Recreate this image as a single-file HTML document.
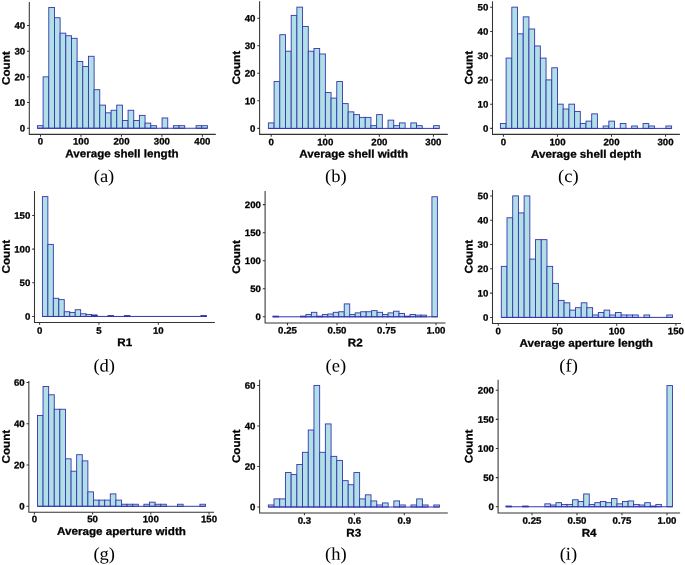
<!DOCTYPE html>
<html><head><meta charset="utf-8"><title>Histograms</title>
<style>
html,body{margin:0;padding:0;background:#fff;}
svg{display:block;}
text{text-rendering:geometricPrecision;}
.t{font-family:"Liberation Sans",Arial,sans-serif;font-weight:bold;fill:#000;stroke:#000;stroke-width:0.28;}
.l{font-family:"Liberation Serif","Times New Roman",serif;fill:#000;}
</style></head><body>
<svg width="685" height="565" viewBox="0 0 685 565">
<rect width="685" height="565" fill="#fff"/>
<g id="panel-a">
<g fill="#b0e0e6" stroke="#3535b0" stroke-width="0.9" stroke-linejoin="miter">
<rect x="37.45" y="125.68" width="5.665" height="2.57"/><rect x="43.12" y="76.85" width="5.665" height="51.40"/><rect x="48.78" y="7.46" width="5.665" height="120.79"/><rect x="54.45" y="17.74" width="5.665" height="110.51"/><rect x="60.11" y="33.16" width="5.665" height="95.09"/><rect x="65.78" y="35.73" width="5.665" height="92.52"/><rect x="71.44" y="38.30" width="5.665" height="89.95"/><rect x="77.11" y="61.43" width="5.665" height="66.82"/><rect x="82.77" y="66.57" width="5.665" height="61.68"/><rect x="88.44" y="56.29" width="5.665" height="71.96"/><rect x="94.10" y="89.70" width="5.665" height="38.55"/><rect x="99.77" y="105.12" width="5.665" height="23.13"/><rect x="105.43" y="112.83" width="5.665" height="15.42"/><rect x="111.09" y="110.26" width="5.665" height="17.99"/><rect x="116.76" y="105.12" width="5.665" height="23.13"/><rect x="122.42" y="120.54" width="5.665" height="7.71"/><rect x="128.09" y="110.26" width="5.665" height="17.99"/><rect x="133.75" y="120.54" width="5.665" height="7.71"/><rect x="139.42" y="115.40" width="5.665" height="12.85"/><rect x="145.09" y="123.11" width="5.665" height="5.14"/><rect x="150.75" y="125.68" width="5.665" height="2.57"/><rect x="156.42" y="128.25" width="5.665" height="0.00"/><rect x="162.08" y="117.97" width="5.665" height="10.28"/><rect x="167.75" y="128.25" width="5.665" height="0.00"/><rect x="173.41" y="125.68" width="5.665" height="2.57"/><rect x="179.07" y="125.68" width="5.665" height="2.57"/><rect x="184.74" y="128.25" width="5.665" height="0.00"/><rect x="190.41" y="128.25" width="5.665" height="0.00"/><rect x="196.07" y="125.68" width="5.665" height="2.57"/><rect x="201.74" y="125.68" width="5.665" height="2.57"/><path d="M37.45 128.25H207.40" fill="none" stroke-width="1.0"/>
</g>
<g stroke="#333333" stroke-width="1.05" fill="none">
<path d="M29.30 2.00V134.35H215.80"/>
<path d="M27.00 128.25H29.30M27.00 102.55H29.30M27.00 76.85H29.30M27.00 51.15H29.30M27.00 25.45H29.30M40.50 134.35v2.3M80.98 134.35v2.3M121.45 134.35v2.3M161.90 134.35v2.3M202.40 134.35v2.3"/>
</g>
<g class="t" font-size="9.4">
<text transform="translate(25.15 131.55) rotate(0.03) scale(1.03 1)" text-anchor="end">0</text><text transform="translate(25.15 105.85) rotate(0.03) scale(1.03 1)" text-anchor="end">10</text><text transform="translate(25.15 80.15) rotate(0.03) scale(1.03 1)" text-anchor="end">20</text><text transform="translate(25.15 54.45) rotate(0.03) scale(1.03 1)" text-anchor="end">30</text><text transform="translate(25.15 28.75) rotate(0.03) scale(1.03 1)" text-anchor="end">40</text><text transform="translate(40.50 144.60) rotate(0.03) scale(1.03 1)" text-anchor="middle">0</text><text transform="translate(80.98 144.60) rotate(0.03) scale(1.03 1)" text-anchor="middle">100</text><text transform="translate(121.45 144.60) rotate(0.03) scale(1.03 1)" text-anchor="middle">200</text><text transform="translate(161.90 144.60) rotate(0.03) scale(1.03 1)" text-anchor="middle">300</text><text transform="translate(202.40 144.60) rotate(0.03) scale(1.03 1)" text-anchor="middle">400</text>
</g>
<text class="t" font-size="11.0" transform="translate(121.95 157.30) rotate(0.03) scale(1.058 1)" text-anchor="middle">Average shell length</text>
<text class="t" font-size="11.0" transform="translate(9.80 68.17) rotate(-89.97) scale(1.058 1)" text-anchor="middle">Count</text>
<text class="l" font-size="18.0" transform="translate(104.00 181.90) rotate(0.03) scale(1.03 1)" text-anchor="middle">(a)</text>
</g>
<g id="panel-b">
<g fill="#b0e0e6" stroke="#3535b0" stroke-width="0.9" stroke-linejoin="miter">
<rect x="268.40" y="122.89" width="5.697" height="5.51"/><rect x="274.10" y="81.55" width="5.697" height="46.85"/><rect x="279.79" y="34.70" width="5.697" height="93.70"/><rect x="285.49" y="51.23" width="5.697" height="77.17"/><rect x="291.19" y="15.40" width="5.697" height="113.00"/><rect x="296.88" y="7.14" width="5.697" height="121.26"/><rect x="302.58" y="26.43" width="5.697" height="101.97"/><rect x="308.28" y="51.23" width="5.697" height="77.17"/><rect x="313.98" y="48.48" width="5.697" height="79.92"/><rect x="319.67" y="53.99" width="5.697" height="74.41"/><rect x="325.37" y="92.57" width="5.697" height="35.83"/><rect x="331.07" y="98.08" width="5.697" height="30.32"/><rect x="336.76" y="81.55" width="5.697" height="46.85"/><rect x="342.46" y="103.60" width="5.697" height="24.80"/><rect x="348.16" y="111.86" width="5.697" height="16.54"/><rect x="353.85" y="114.62" width="5.697" height="13.78"/><rect x="359.55" y="117.38" width="5.697" height="11.02"/><rect x="365.25" y="117.38" width="5.697" height="11.02"/><rect x="370.95" y="125.64" width="5.697" height="2.76"/><rect x="376.64" y="114.62" width="5.697" height="13.78"/><rect x="382.34" y="128.40" width="5.697" height="0.00"/><rect x="388.04" y="120.13" width="5.697" height="8.27"/><rect x="393.73" y="125.64" width="5.697" height="2.76"/><rect x="399.43" y="122.89" width="5.697" height="5.51"/><rect x="405.13" y="128.40" width="5.697" height="0.00"/><rect x="410.82" y="122.89" width="5.697" height="5.51"/><rect x="416.52" y="125.64" width="5.697" height="2.76"/><rect x="422.22" y="128.40" width="5.697" height="0.00"/><rect x="427.92" y="128.40" width="5.697" height="0.00"/><rect x="433.61" y="125.64" width="5.697" height="2.76"/><path d="M268.40 128.40H439.31" fill="none" stroke-width="1.0"/>
</g>
<g stroke="#333333" stroke-width="1.05" fill="none">
<path d="M259.60 1.20V134.35H447.80"/>
<path d="M257.30 128.40H259.60M257.30 100.84H259.60M257.30 73.28H259.60M257.30 45.72H259.60M257.30 18.16H259.60M271.20 134.35v2.3M325.30 134.35v2.3M379.35 134.35v2.3M433.43 134.35v2.3"/>
</g>
<g class="t" font-size="9.4">
<text transform="translate(255.45 131.70) rotate(0.03) scale(1.03 1)" text-anchor="end">0</text><text transform="translate(255.45 104.14) rotate(0.03) scale(1.03 1)" text-anchor="end">10</text><text transform="translate(255.45 76.58) rotate(0.03) scale(1.03 1)" text-anchor="end">20</text><text transform="translate(255.45 49.02) rotate(0.03) scale(1.03 1)" text-anchor="end">30</text><text transform="translate(255.45 21.46) rotate(0.03) scale(1.03 1)" text-anchor="end">40</text><text transform="translate(271.20 145.30) rotate(0.03) scale(1.03 1)" text-anchor="middle">0</text><text transform="translate(325.30 145.30) rotate(0.03) scale(1.03 1)" text-anchor="middle">100</text><text transform="translate(379.35 145.30) rotate(0.03) scale(1.03 1)" text-anchor="middle">200</text><text transform="translate(433.43 145.30) rotate(0.03) scale(1.03 1)" text-anchor="middle">300</text>
</g>
<text class="t" font-size="11.0" transform="translate(353.70 157.50) rotate(0.03) scale(1.058 1)" text-anchor="middle">Average shell width</text>
<text class="t" font-size="11.0" transform="translate(240.00 67.77) rotate(-89.97) scale(1.058 1)" text-anchor="middle">Count</text>
<text class="l" font-size="18.0" transform="translate(335.80 181.90) rotate(0.03) scale(1.03 1)" text-anchor="middle">(b)</text>
</g>
<g id="panel-c">
<g fill="#b0e0e6" stroke="#3535b0" stroke-width="0.9" stroke-linejoin="miter">
<rect x="500.40" y="123.55" width="5.707" height="4.85"/><rect x="506.11" y="58.08" width="5.707" height="70.32"/><rect x="511.81" y="7.15" width="5.707" height="121.25"/><rect x="517.52" y="33.83" width="5.707" height="94.57"/><rect x="523.23" y="16.85" width="5.707" height="111.55"/><rect x="528.93" y="28.98" width="5.707" height="99.42"/><rect x="534.64" y="45.95" width="5.707" height="82.45"/><rect x="540.35" y="58.08" width="5.707" height="70.32"/><rect x="546.06" y="79.90" width="5.707" height="48.50"/><rect x="551.76" y="67.78" width="5.707" height="60.62"/><rect x="557.47" y="104.15" width="5.707" height="24.25"/><rect x="563.18" y="109.00" width="5.707" height="19.40"/><rect x="568.88" y="104.15" width="5.707" height="24.25"/><rect x="574.59" y="111.43" width="5.707" height="16.97"/><rect x="580.30" y="123.55" width="5.707" height="4.85"/><rect x="586.00" y="121.12" width="5.707" height="7.27"/><rect x="591.71" y="113.85" width="5.707" height="14.55"/><rect x="597.42" y="128.40" width="5.707" height="0.00"/><rect x="603.13" y="125.98" width="5.707" height="2.42"/><rect x="608.83" y="121.12" width="5.707" height="7.27"/><rect x="614.54" y="128.40" width="5.707" height="0.00"/><rect x="620.25" y="123.55" width="5.707" height="4.85"/><rect x="625.95" y="128.40" width="5.707" height="0.00"/><rect x="631.66" y="125.98" width="5.707" height="2.42"/><rect x="637.37" y="128.40" width="5.707" height="0.00"/><rect x="643.07" y="123.55" width="5.707" height="4.85"/><rect x="648.78" y="125.98" width="5.707" height="2.42"/><rect x="654.49" y="128.40" width="5.707" height="0.00"/><rect x="660.20" y="128.40" width="5.707" height="0.00"/><rect x="665.90" y="125.98" width="5.707" height="2.42"/><path d="M500.40 128.40H671.61" fill="none" stroke-width="1.0"/>
</g>
<g stroke="#333333" stroke-width="1.05" fill="none">
<path d="M492.50 1.20V134.35H679.90"/>
<path d="M490.20 128.40H492.50M490.20 104.15H492.50M490.20 79.90H492.50M490.20 55.65H492.50M490.20 31.40H492.50M490.20 7.15H492.50M503.40 134.35v2.3M557.45 134.35v2.3M611.50 134.35v2.3M665.55 134.35v2.3"/>
</g>
<g class="t" font-size="9.4">
<text transform="translate(488.35 131.70) rotate(0.03) scale(1.03 1)" text-anchor="end">0</text><text transform="translate(488.35 107.45) rotate(0.03) scale(1.03 1)" text-anchor="end">10</text><text transform="translate(488.35 83.20) rotate(0.03) scale(1.03 1)" text-anchor="end">20</text><text transform="translate(488.35 58.95) rotate(0.03) scale(1.03 1)" text-anchor="end">30</text><text transform="translate(488.35 34.70) rotate(0.03) scale(1.03 1)" text-anchor="end">40</text><text transform="translate(488.35 10.45) rotate(0.03) scale(1.03 1)" text-anchor="end">50</text><text transform="translate(503.40 145.30) rotate(0.03) scale(1.03 1)" text-anchor="middle">0</text><text transform="translate(557.45 145.30) rotate(0.03) scale(1.03 1)" text-anchor="middle">100</text><text transform="translate(611.50 145.30) rotate(0.03) scale(1.03 1)" text-anchor="middle">200</text><text transform="translate(665.55 145.30) rotate(0.03) scale(1.03 1)" text-anchor="middle">300</text>
</g>
<text class="t" font-size="11.0" transform="translate(586.20 157.75) rotate(0.03) scale(1.058 1)" text-anchor="middle">Average shell depth</text>
<text class="t" font-size="11.0" transform="translate(472.60 67.77) rotate(-89.97) scale(1.058 1)" text-anchor="middle">Count</text>
<text class="l" font-size="18.0" transform="translate(568.40 181.90) rotate(0.03) scale(1.03 1)" text-anchor="middle">(c)</text>
</g>
<g id="panel-d">
<g fill="#b0e0e6" stroke="#3535b0" stroke-width="0.9" stroke-linejoin="miter">
<rect x="42.40" y="196.60" width="5.467" height="119.85"/><rect x="47.87" y="244.41" width="5.467" height="72.04"/><rect x="53.33" y="298.27" width="5.467" height="18.18"/><rect x="58.80" y="299.62" width="5.467" height="16.83"/><rect x="64.27" y="311.74" width="5.467" height="4.71"/><rect x="69.73" y="312.41" width="5.467" height="4.04"/><rect x="75.20" y="309.72" width="5.467" height="6.73"/><rect x="80.67" y="313.76" width="5.467" height="2.69"/><rect x="86.14" y="314.43" width="5.467" height="2.02"/><rect x="91.60" y="315.10" width="5.467" height="1.35"/><rect x="97.07" y="316.45" width="5.467" height="0.00"/><rect x="102.54" y="316.45" width="5.467" height="0.00"/><rect x="108.00" y="315.78" width="5.467" height="0.67"/><rect x="113.47" y="316.45" width="5.467" height="0.00"/><rect x="118.94" y="316.45" width="5.467" height="0.00"/><rect x="124.41" y="315.78" width="5.467" height="0.67"/><rect x="129.87" y="316.45" width="5.467" height="0.00"/><rect x="135.34" y="316.45" width="5.467" height="0.00"/><rect x="140.81" y="316.45" width="5.467" height="0.00"/><rect x="146.27" y="316.45" width="5.467" height="0.00"/><rect x="151.74" y="316.45" width="5.467" height="0.00"/><rect x="157.21" y="316.45" width="5.467" height="0.00"/><rect x="162.67" y="316.45" width="5.467" height="0.00"/><rect x="168.14" y="316.45" width="5.467" height="0.00"/><rect x="173.61" y="316.45" width="5.467" height="0.00"/><rect x="179.07" y="316.45" width="5.467" height="0.00"/><rect x="184.54" y="316.45" width="5.467" height="0.00"/><rect x="190.01" y="316.45" width="5.467" height="0.00"/><rect x="195.48" y="316.45" width="5.467" height="0.00"/><rect x="200.94" y="315.78" width="5.467" height="0.67"/><rect x="91.60" y="315.10" width="5.467" height="1.35" fill="#2a2aa8" stroke="#2a2aa8" stroke-width="0.7"/><rect x="108.00" y="315.78" width="5.467" height="0.67" fill="#2a2aa8" stroke="#2a2aa8" stroke-width="0.7"/><rect x="124.41" y="315.78" width="5.467" height="0.67" fill="#2a2aa8" stroke="#2a2aa8" stroke-width="0.7"/><rect x="200.94" y="315.78" width="5.467" height="0.67" fill="#2a2aa8" stroke="#2a2aa8" stroke-width="0.7"/><path d="M42.40 316.45H206.41" fill="none" stroke-width="1.0"/>
</g>
<g stroke="#333333" stroke-width="1.05" fill="none">
<path d="M34.50 190.90V322.50H214.90"/>
<path d="M32.20 316.45H34.50M32.20 282.78H34.50M32.20 249.12H34.50M32.20 215.45H34.50M39.60 322.50v2.3M98.95 322.50v2.3M158.30 322.50v2.3"/>
</g>
<g class="t" font-size="9.4">
<text transform="translate(30.35 319.75) rotate(0.03) scale(1.03 1)" text-anchor="end">0</text><text transform="translate(30.35 286.08) rotate(0.03) scale(1.03 1)" text-anchor="end">50</text><text transform="translate(30.35 252.42) rotate(0.03) scale(1.03 1)" text-anchor="end">100</text><text transform="translate(30.35 218.75) rotate(0.03) scale(1.03 1)" text-anchor="end">150</text><text transform="translate(39.60 333.65) rotate(0.03) scale(1.03 1)" text-anchor="middle">0</text><text transform="translate(98.95 333.65) rotate(0.03) scale(1.03 1)" text-anchor="middle">5</text><text transform="translate(158.30 333.65) rotate(0.03) scale(1.03 1)" text-anchor="middle">10</text>
</g>
<text class="t" font-size="11.0" transform="translate(124.70 345.90) rotate(0.03) scale(1.058 1)" text-anchor="middle">R1</text>
<text class="t" font-size="11.0" transform="translate(9.80 256.70) rotate(-89.97) scale(1.058 1)" text-anchor="middle">Count</text>
<text class="l" font-size="18.0" transform="translate(104.20 371.50) rotate(0.03) scale(1.03 1)" text-anchor="middle">(d)</text>
</g>
<g id="panel-e">
<g fill="#b0e0e6" stroke="#3535b0" stroke-width="0.9" stroke-linejoin="miter">
<rect x="273.00" y="316.24" width="5.480" height="0.56"/><rect x="278.48" y="316.80" width="5.480" height="0.00"/><rect x="283.96" y="316.80" width="5.480" height="0.00"/><rect x="289.44" y="316.80" width="5.480" height="0.00"/><rect x="294.92" y="316.80" width="5.480" height="0.00"/><rect x="300.40" y="316.24" width="5.480" height="0.56"/><rect x="305.88" y="314.56" width="5.480" height="2.24"/><rect x="311.36" y="312.31" width="5.480" height="4.49"/><rect x="316.84" y="316.24" width="5.480" height="0.56"/><rect x="322.32" y="314.56" width="5.480" height="2.24"/><rect x="327.80" y="314.00" width="5.480" height="2.81"/><rect x="333.28" y="312.31" width="5.480" height="4.49"/><rect x="338.76" y="311.75" width="5.480" height="5.05"/><rect x="344.24" y="303.90" width="5.480" height="12.90"/><rect x="349.72" y="314.56" width="5.480" height="2.24"/><rect x="355.20" y="312.87" width="5.480" height="3.93"/><rect x="360.68" y="311.75" width="5.480" height="5.05"/><rect x="366.16" y="311.75" width="5.480" height="5.05"/><rect x="371.64" y="310.63" width="5.480" height="6.17"/><rect x="377.12" y="312.31" width="5.480" height="4.49"/><rect x="382.60" y="314.56" width="5.480" height="2.24"/><rect x="388.08" y="312.87" width="5.480" height="3.93"/><rect x="393.56" y="311.19" width="5.480" height="5.61"/><rect x="399.04" y="313.43" width="5.480" height="3.37"/><rect x="404.52" y="316.24" width="5.480" height="0.56"/><rect x="410.00" y="314.56" width="5.480" height="2.24"/><rect x="415.48" y="315.12" width="5.480" height="1.68"/><rect x="420.96" y="315.12" width="5.480" height="1.68"/><rect x="426.44" y="316.80" width="5.480" height="0.00"/><rect x="431.92" y="196.75" width="5.480" height="120.05"/><rect x="273.00" y="316.24" width="5.480" height="0.56" fill="#2a2aa8" stroke="#2a2aa8" stroke-width="0.7"/><rect x="300.40" y="316.24" width="5.480" height="0.56" fill="#2a2aa8" stroke="#2a2aa8" stroke-width="0.7"/><rect x="316.84" y="316.24" width="5.480" height="0.56" fill="#2a2aa8" stroke="#2a2aa8" stroke-width="0.7"/><rect x="404.52" y="316.24" width="5.480" height="0.56" fill="#2a2aa8" stroke="#2a2aa8" stroke-width="0.7"/><path d="M273.00 316.80H437.40" fill="none" stroke-width="1.0"/>
</g>
<g stroke="#333333" stroke-width="1.05" fill="none">
<path d="M265.10 190.95V323.00H445.50"/>
<path d="M262.80 316.80H265.10M262.80 288.75H265.10M262.80 260.70H265.10M262.80 232.65H265.10M262.80 204.60H265.10M287.50 323.00v2.3M337.00 323.00v2.3M386.50 323.00v2.3M436.00 323.00v2.3"/>
</g>
<g class="t" font-size="9.4">
<text transform="translate(260.95 320.10) rotate(0.03) scale(1.03 1)" text-anchor="end">0</text><text transform="translate(260.95 292.05) rotate(0.03) scale(1.03 1)" text-anchor="end">50</text><text transform="translate(260.95 264.00) rotate(0.03) scale(1.03 1)" text-anchor="end">100</text><text transform="translate(260.95 235.95) rotate(0.03) scale(1.03 1)" text-anchor="end">150</text><text transform="translate(260.95 207.90) rotate(0.03) scale(1.03 1)" text-anchor="end">200</text><text transform="translate(287.50 333.60) rotate(0.03) scale(1.03 1)" text-anchor="middle">0.25</text><text transform="translate(337.00 333.60) rotate(0.03) scale(1.03 1)" text-anchor="middle">0.50</text><text transform="translate(386.50 333.60) rotate(0.03) scale(1.03 1)" text-anchor="middle">0.75</text><text transform="translate(436.00 333.60) rotate(0.03) scale(1.03 1)" text-anchor="middle">1.00</text>
</g>
<text class="t" font-size="11.0" transform="translate(355.30 346.20) rotate(0.03) scale(1.058 1)" text-anchor="middle">R2</text>
<text class="t" font-size="11.0" transform="translate(240.00 256.98) rotate(-89.97) scale(1.058 1)" text-anchor="middle">Count</text>
<text class="l" font-size="18.0" transform="translate(335.80 371.50) rotate(0.03) scale(1.03 1)" text-anchor="middle">(e)</text>
</g>
<g id="panel-f">
<g fill="#b0e0e6" stroke="#3535b0" stroke-width="0.9" stroke-linejoin="miter">
<rect x="501.30" y="266.37" width="5.707" height="51.03"/><rect x="507.01" y="217.77" width="5.707" height="99.63"/><rect x="512.71" y="195.90" width="5.707" height="121.50"/><rect x="518.42" y="212.91" width="5.707" height="104.49"/><rect x="524.13" y="195.90" width="5.707" height="121.50"/><rect x="529.84" y="259.08" width="5.707" height="58.32"/><rect x="535.54" y="239.64" width="5.707" height="77.76"/><rect x="541.25" y="239.64" width="5.707" height="77.76"/><rect x="546.96" y="266.37" width="5.707" height="51.03"/><rect x="552.66" y="283.38" width="5.707" height="34.02"/><rect x="558.37" y="300.39" width="5.707" height="17.01"/><rect x="564.08" y="302.82" width="5.707" height="14.58"/><rect x="569.78" y="310.11" width="5.707" height="7.29"/><rect x="575.49" y="307.68" width="5.707" height="9.72"/><rect x="581.20" y="302.82" width="5.707" height="14.58"/><rect x="586.90" y="307.68" width="5.707" height="9.72"/><rect x="592.61" y="314.97" width="5.707" height="2.43"/><rect x="598.32" y="312.54" width="5.707" height="4.86"/><rect x="604.03" y="310.11" width="5.707" height="7.29"/><rect x="609.73" y="314.97" width="5.707" height="2.43"/><rect x="615.44" y="312.54" width="5.707" height="4.86"/><rect x="621.15" y="314.97" width="5.707" height="2.43"/><rect x="626.85" y="314.97" width="5.707" height="2.43"/><rect x="632.56" y="314.97" width="5.707" height="2.43"/><rect x="638.27" y="317.40" width="5.707" height="0.00"/><rect x="643.98" y="314.97" width="5.707" height="2.43"/><rect x="649.68" y="317.40" width="5.707" height="0.00"/><rect x="655.39" y="317.40" width="5.707" height="0.00"/><rect x="661.10" y="317.40" width="5.707" height="0.00"/><rect x="666.80" y="314.97" width="5.707" height="2.43"/><path d="M501.30 317.40H672.51" fill="none" stroke-width="1.0"/>
</g>
<g stroke="#333333" stroke-width="1.05" fill="none">
<path d="M492.50 190.00V323.40H681.00"/>
<path d="M490.20 317.40H492.50M490.20 293.10H492.50M490.20 268.80H492.50M490.20 244.50H492.50M490.20 220.20H492.50M490.20 195.90H492.50M498.26 323.40v2.3M557.50 323.40v2.3M616.70 323.40v2.3M675.90 323.40v2.3"/>
</g>
<g class="t" font-size="9.4">
<text transform="translate(488.35 320.70) rotate(0.03) scale(1.03 1)" text-anchor="end">0</text><text transform="translate(488.35 296.40) rotate(0.03) scale(1.03 1)" text-anchor="end">10</text><text transform="translate(488.35 272.10) rotate(0.03) scale(1.03 1)" text-anchor="end">20</text><text transform="translate(488.35 247.80) rotate(0.03) scale(1.03 1)" text-anchor="end">30</text><text transform="translate(488.35 223.50) rotate(0.03) scale(1.03 1)" text-anchor="end">40</text><text transform="translate(488.35 199.20) rotate(0.03) scale(1.03 1)" text-anchor="end">50</text><text transform="translate(498.26 334.30) rotate(0.03) scale(1.03 1)" text-anchor="middle">0</text><text transform="translate(557.50 334.30) rotate(0.03) scale(1.03 1)" text-anchor="middle">50</text><text transform="translate(616.70 334.30) rotate(0.03) scale(1.03 1)" text-anchor="middle">100</text><text transform="translate(675.90 334.30) rotate(0.03) scale(1.03 1)" text-anchor="middle">150</text>
</g>
<text class="t" font-size="11.0" transform="translate(586.25 346.75) rotate(0.03) scale(1.058 1)" text-anchor="middle">Average aperture length</text>
<text class="t" font-size="11.0" transform="translate(472.60 256.70) rotate(-89.97) scale(1.058 1)" text-anchor="middle">Count</text>
<text class="l" font-size="18.0" transform="translate(568.60 371.50) rotate(0.03) scale(1.03 1)" text-anchor="middle">(f)</text>
</g>
<g id="panel-g">
<g fill="#b0e0e6" stroke="#3535b0" stroke-width="0.9" stroke-linejoin="miter">
<rect x="37.45" y="415.44" width="5.603" height="90.86"/><rect x="43.05" y="386.53" width="5.603" height="119.77"/><rect x="48.66" y="394.79" width="5.603" height="111.51"/><rect x="54.26" y="409.25" width="5.603" height="97.05"/><rect x="59.86" y="409.25" width="5.603" height="97.05"/><rect x="65.47" y="458.81" width="5.603" height="47.49"/><rect x="71.07" y="471.19" width="5.603" height="35.10"/><rect x="76.67" y="454.68" width="5.603" height="51.62"/><rect x="82.27" y="460.87" width="5.603" height="45.43"/><rect x="87.88" y="491.85" width="5.603" height="14.46"/><rect x="93.48" y="500.11" width="5.603" height="6.20"/><rect x="99.08" y="500.11" width="5.603" height="6.20"/><rect x="104.69" y="500.11" width="5.603" height="6.20"/><rect x="110.29" y="493.91" width="5.603" height="12.39"/><rect x="115.89" y="500.11" width="5.603" height="6.20"/><rect x="121.50" y="504.24" width="5.603" height="2.06"/><rect x="127.10" y="504.24" width="5.603" height="2.06"/><rect x="132.70" y="504.24" width="5.603" height="2.06"/><rect x="138.30" y="506.30" width="5.603" height="0.00"/><rect x="143.91" y="504.24" width="5.603" height="2.06"/><rect x="149.51" y="502.17" width="5.603" height="4.13"/><rect x="155.11" y="504.24" width="5.603" height="2.06"/><rect x="160.72" y="504.24" width="5.603" height="2.06"/><rect x="166.32" y="506.30" width="5.603" height="0.00"/><rect x="171.92" y="506.30" width="5.603" height="0.00"/><rect x="177.52" y="504.24" width="5.603" height="2.06"/><rect x="183.13" y="506.30" width="5.603" height="0.00"/><rect x="188.73" y="506.30" width="5.603" height="0.00"/><rect x="194.33" y="506.30" width="5.603" height="0.00"/><rect x="199.94" y="504.24" width="5.603" height="2.06"/><path d="M37.45 506.30H205.54" fill="none" stroke-width="1.0"/>
</g>
<g stroke="#333333" stroke-width="1.05" fill="none">
<path d="M28.85 381.00V512.25H214.05"/>
<path d="M26.55 506.30H28.85M26.55 465.00H28.85M26.55 423.70H28.85M26.55 382.40H28.85M34.37 512.25v2.3M92.59 512.25v2.3M150.81 512.25v2.3M209.03 512.25v2.3"/>
</g>
<g class="t" font-size="9.4">
<text transform="translate(24.70 509.60) rotate(0.03) scale(1.03 1)" text-anchor="end">0</text><text transform="translate(24.70 468.30) rotate(0.03) scale(1.03 1)" text-anchor="end">20</text><text transform="translate(24.70 427.00) rotate(0.03) scale(1.03 1)" text-anchor="end">40</text><text transform="translate(24.70 385.70) rotate(0.03) scale(1.03 1)" text-anchor="end">60</text><text transform="translate(34.37 522.30) rotate(0.03) scale(1.03 1)" text-anchor="middle">0</text><text transform="translate(92.59 522.30) rotate(0.03) scale(1.03 1)" text-anchor="middle">50</text><text transform="translate(150.81 522.30) rotate(0.03) scale(1.03 1)" text-anchor="middle">100</text><text transform="translate(209.03 522.30) rotate(0.03) scale(1.03 1)" text-anchor="middle">150</text>
</g>
<text class="t" font-size="11.0" transform="translate(121.45 534.90) rotate(0.03) scale(1.058 1)" text-anchor="middle">Average aperture width</text>
<text class="t" font-size="11.0" transform="translate(9.80 446.62) rotate(-89.97) scale(1.058 1)" text-anchor="middle">Count</text>
<text class="l" font-size="18.0" transform="translate(104.20 559.80) rotate(0.03) scale(1.03 1)" text-anchor="middle">(g)</text>
</g>
<g id="panel-h">
<g fill="#b0e0e6" stroke="#3535b0" stroke-width="0.9" stroke-linejoin="miter">
<rect x="268.30" y="504.97" width="5.707" height="2.03"/><rect x="274.01" y="498.90" width="5.707" height="8.10"/><rect x="279.71" y="498.90" width="5.707" height="8.10"/><rect x="285.42" y="472.56" width="5.707" height="34.44"/><rect x="291.13" y="474.58" width="5.707" height="32.42"/><rect x="296.84" y="464.45" width="5.707" height="42.55"/><rect x="302.54" y="452.30" width="5.707" height="54.70"/><rect x="308.25" y="430.01" width="5.707" height="76.99"/><rect x="313.96" y="385.44" width="5.707" height="121.56"/><rect x="319.66" y="452.30" width="5.707" height="54.70"/><rect x="325.37" y="423.93" width="5.707" height="83.07"/><rect x="331.08" y="456.35" width="5.707" height="50.65"/><rect x="336.78" y="460.40" width="5.707" height="46.60"/><rect x="342.49" y="480.66" width="5.707" height="26.34"/><rect x="348.20" y="484.71" width="5.707" height="22.29"/><rect x="353.91" y="472.56" width="5.707" height="34.44"/><rect x="359.61" y="498.90" width="5.707" height="8.10"/><rect x="365.32" y="494.84" width="5.707" height="12.16"/><rect x="371.03" y="500.92" width="5.707" height="6.08"/><rect x="376.73" y="504.97" width="5.707" height="2.03"/><rect x="382.44" y="502.95" width="5.707" height="4.05"/><rect x="388.15" y="507.00" width="5.707" height="0.00"/><rect x="393.85" y="500.92" width="5.707" height="6.08"/><rect x="399.56" y="504.97" width="5.707" height="2.03"/><rect x="405.27" y="507.00" width="5.707" height="0.00"/><rect x="410.98" y="504.97" width="5.707" height="2.03"/><rect x="416.68" y="498.90" width="5.707" height="8.10"/><rect x="422.39" y="504.97" width="5.707" height="2.03"/><rect x="428.10" y="507.00" width="5.707" height="0.00"/><rect x="433.80" y="504.97" width="5.707" height="2.03"/><path d="M268.30 507.00H439.51" fill="none" stroke-width="1.0"/>
</g>
<g stroke="#333333" stroke-width="1.05" fill="none">
<path d="M259.60 379.75V512.90H447.80"/>
<path d="M257.30 507.00H259.60M257.30 466.48H259.60M257.30 425.96H259.60M257.30 385.44H259.60M304.40 512.90v2.3M354.35 512.90v2.3M404.30 512.90v2.3"/>
</g>
<g class="t" font-size="9.4">
<text transform="translate(255.45 510.30) rotate(0.03) scale(1.03 1)" text-anchor="end">0</text><text transform="translate(255.45 469.78) rotate(0.03) scale(1.03 1)" text-anchor="end">20</text><text transform="translate(255.45 429.26) rotate(0.03) scale(1.03 1)" text-anchor="end">40</text><text transform="translate(255.45 388.74) rotate(0.03) scale(1.03 1)" text-anchor="end">60</text><text transform="translate(304.40 523.80) rotate(0.03) scale(1.03 1)" text-anchor="middle">0.3</text><text transform="translate(354.35 523.80) rotate(0.03) scale(1.03 1)" text-anchor="middle">0.6</text><text transform="translate(404.30 523.80) rotate(0.03) scale(1.03 1)" text-anchor="middle">0.9</text>
</g>
<text class="t" font-size="11.0" transform="translate(353.70 536.50) rotate(0.03) scale(1.058 1)" text-anchor="middle">R3</text>
<text class="t" font-size="11.0" transform="translate(240.00 446.32) rotate(-89.97) scale(1.058 1)" text-anchor="middle">Count</text>
<text class="l" font-size="18.0" transform="translate(335.80 559.80) rotate(0.03) scale(1.03 1)" text-anchor="middle">(h)</text>
</g>
<g id="panel-i">
<g fill="#b0e0e6" stroke="#3535b0" stroke-width="0.9" stroke-linejoin="miter">
<rect x="506.00" y="506.17" width="5.550" height="0.58"/><rect x="511.55" y="506.75" width="5.550" height="0.00"/><rect x="517.10" y="506.75" width="5.550" height="0.00"/><rect x="522.65" y="506.17" width="5.550" height="0.58"/><rect x="528.20" y="506.75" width="5.550" height="0.00"/><rect x="533.75" y="506.75" width="5.550" height="0.00"/><rect x="539.30" y="506.75" width="5.550" height="0.00"/><rect x="544.85" y="503.84" width="5.550" height="2.91"/><rect x="550.40" y="505.00" width="5.550" height="1.75"/><rect x="555.95" y="502.67" width="5.550" height="4.08"/><rect x="561.50" y="504.42" width="5.550" height="2.33"/><rect x="567.05" y="504.42" width="5.550" height="2.33"/><rect x="572.60" y="499.76" width="5.550" height="6.99"/><rect x="578.15" y="501.51" width="5.550" height="5.24"/><rect x="583.70" y="493.94" width="5.550" height="12.82"/><rect x="589.25" y="504.42" width="5.550" height="2.33"/><rect x="594.80" y="502.67" width="5.550" height="4.08"/><rect x="600.35" y="501.51" width="5.550" height="5.24"/><rect x="605.90" y="502.67" width="5.550" height="4.08"/><rect x="611.45" y="498.60" width="5.550" height="8.16"/><rect x="617.00" y="503.84" width="5.550" height="2.91"/><rect x="622.55" y="501.51" width="5.550" height="5.24"/><rect x="628.10" y="500.93" width="5.550" height="5.83"/><rect x="633.65" y="504.42" width="5.550" height="2.33"/><rect x="639.20" y="505.00" width="5.550" height="1.75"/><rect x="644.75" y="502.67" width="5.550" height="4.08"/><rect x="650.30" y="506.17" width="5.550" height="0.58"/><rect x="655.85" y="504.42" width="5.550" height="2.33"/><rect x="661.40" y="506.75" width="5.550" height="0.00"/><rect x="666.95" y="385.59" width="5.550" height="121.16"/><rect x="506.00" y="506.17" width="5.550" height="0.58" fill="#2a2aa8" stroke="#2a2aa8" stroke-width="0.7"/><rect x="522.65" y="506.17" width="5.550" height="0.58" fill="#2a2aa8" stroke="#2a2aa8" stroke-width="0.7"/><rect x="650.30" y="506.17" width="5.550" height="0.58" fill="#2a2aa8" stroke="#2a2aa8" stroke-width="0.7"/><path d="M506.00 506.75H672.50" fill="none" stroke-width="1.0"/>
</g>
<g stroke="#333333" stroke-width="1.05" fill="none">
<path d="M498.10 379.75V513.00H680.10"/>
<path d="M495.80 506.75H498.10M495.80 477.62H498.10M495.80 448.50H498.10M495.80 419.38H498.10M495.80 390.25H498.10M532.00 513.00v2.3M577.00 513.00v2.3M622.00 513.00v2.3M667.00 513.00v2.3"/>
</g>
<g class="t" font-size="9.4">
<text transform="translate(493.95 510.05) rotate(0.03) scale(1.03 1)" text-anchor="end">0</text><text transform="translate(493.95 480.93) rotate(0.03) scale(1.03 1)" text-anchor="end">50</text><text transform="translate(493.95 451.80) rotate(0.03) scale(1.03 1)" text-anchor="end">100</text><text transform="translate(493.95 422.68) rotate(0.03) scale(1.03 1)" text-anchor="end">150</text><text transform="translate(493.95 393.55) rotate(0.03) scale(1.03 1)" text-anchor="end">200</text><text transform="translate(532.00 523.80) rotate(0.03) scale(1.03 1)" text-anchor="middle">0.25</text><text transform="translate(577.00 523.80) rotate(0.03) scale(1.03 1)" text-anchor="middle">0.50</text><text transform="translate(622.00 523.80) rotate(0.03) scale(1.03 1)" text-anchor="middle">0.75</text><text transform="translate(667.00 523.80) rotate(0.03) scale(1.03 1)" text-anchor="middle">1.00</text>
</g>
<text class="t" font-size="11.0" transform="translate(589.10 536.50) rotate(0.03) scale(1.058 1)" text-anchor="middle">R4</text>
<text class="t" font-size="11.0" transform="translate(472.60 446.38) rotate(-89.97) scale(1.058 1)" text-anchor="middle">Count</text>
<text class="l" font-size="18.0" transform="translate(568.40 559.80) rotate(0.03) scale(1.03 1)" text-anchor="middle">(i)</text>
</g>
</svg>
</body></html>
